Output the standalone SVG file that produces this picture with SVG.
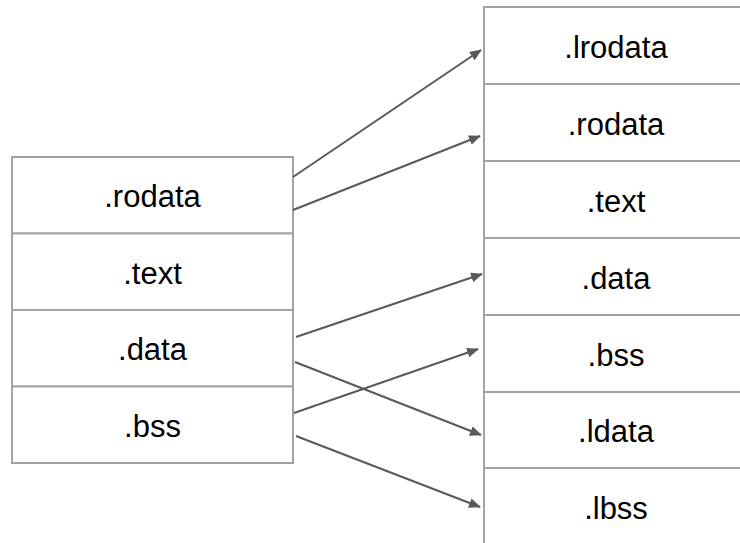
<svg xmlns="http://www.w3.org/2000/svg" width="740" height="543" viewBox="0 0 740 543">
<defs>
<style>
.box{fill:#ffffff;stroke:#a3a3a3;stroke-width:2}
.lbl{font-family:"Liberation Sans",Arial,sans-serif;font-size:31px;fill:#000000;text-anchor:middle}
.conn{stroke:#595959;stroke-width:2;fill:none;marker-end:url(#ah)}
</style>
<marker id="ah" markerWidth="6" markerHeight="5" refX="5.5" refY="2.5" orient="auto" markerUnits="strokeWidth">
<path d="M0,0 L6,2.5 L0,5 Z" fill="#595959"/>
</marker>
</defs>
<rect width="740" height="543" fill="#ffffff"/>
<g id="left">
<g id="l-rodata"><rect class="box" x="12" y="157" width="281" height="76.5"/><text class="lbl" x="152.5" y="207">.rodata</text></g>
<g id="l-text"><rect class="box" x="12" y="233.5" width="281" height="76.5"/><text class="lbl" x="152.5" y="284">.text</text></g>
<g id="l-data"><rect class="box" x="12" y="310" width="281" height="76.5"/><text class="lbl" x="152.5" y="360">.data</text></g>
<g id="l-bss"><rect class="box" x="12" y="386.5" width="281" height="76.5"/><text class="lbl" x="152.5" y="437">.bss</text></g>
</g>
<g id="right">
<g id="r-lrodata"><rect class="box" x="484" y="7" width="265" height="77"/><text class="lbl" x="616" y="58">.lrodata</text></g>
<g id="r-rodata"><rect class="box" x="484" y="84" width="265" height="77"/><text class="lbl" x="616" y="135">.rodata</text></g>
<g id="r-text"><rect class="box" x="484" y="161" width="265" height="77"/><text class="lbl" x="616" y="212">.text</text></g>
<g id="r-data"><rect class="box" x="484" y="238" width="265" height="77"/><text class="lbl" x="616" y="289">.data</text></g>
<g id="r-bss"><rect class="box" x="484" y="315" width="265" height="77"/><text class="lbl" x="616" y="366">.bss</text></g>
<g id="r-ldata"><rect class="box" x="484" y="392" width="265" height="76"/><text class="lbl" x="616" y="442">.ldata</text></g>
<g id="r-lbss"><rect class="box" x="484" y="468" width="265" height="80"/><text class="lbl" x="616" y="519">.lbss</text></g>
</g>
<g id="connectors">
<line class="conn" x1="293" y1="177" x2="481" y2="50"/>
<line class="conn" x1="293" y1="210" x2="480" y2="136"/>
<line class="conn" x1="296" y1="337" x2="482" y2="274"/>
<line class="conn" x1="295" y1="362" x2="481" y2="435"/>
<line class="conn" x1="294" y1="413" x2="478" y2="349"/>
<line class="conn" x1="296" y1="436" x2="480" y2="507"/>
</g>
</svg>
